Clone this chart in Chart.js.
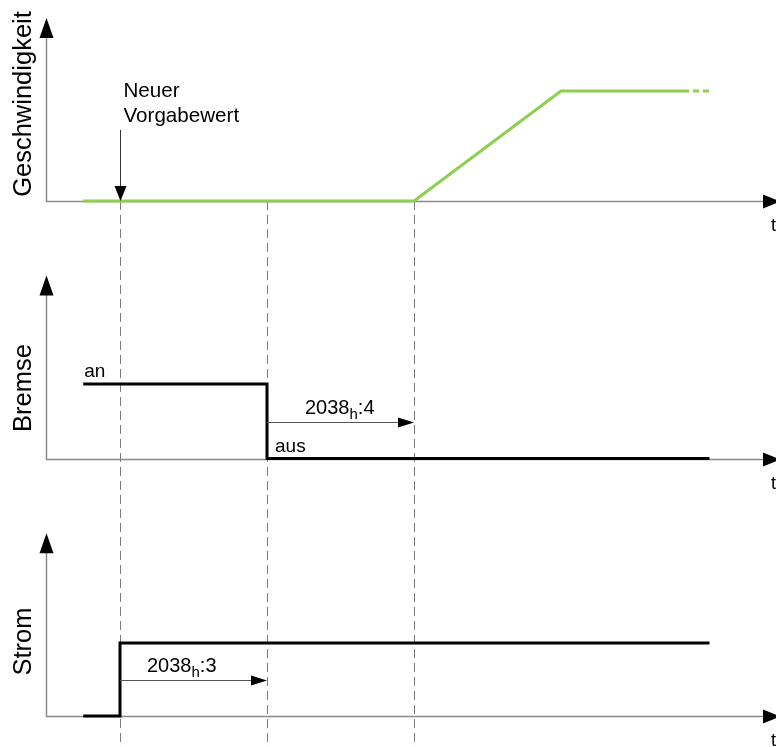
<!DOCTYPE html>
<html>
<head>
<meta charset="utf-8">
<script src="https://cdn.jsdelivr.net/npm/chart.js@4.4.0/dist/chart.umd.min.js"></script>
<style>
  html, body { margin: 0; padding: 0; background: #fff; }
  #wrap { width: 776px; height: 747px; }
</style>
</head>
<body>
<div id="wrap"><canvas id="chart" width="776" height="747"></canvas></div>
<script>
// Zeitachse: 1 = Neuer Vorgabewert, 2 = Bremse aus, 3 = Rampe startet
const eventTimes = [1, 2, 3];
const panelNames = ['Geschwindigkeit', 'Bremse', 'Strom'];

const speedTimes = [0.75, 3, 4, 4.83];
const speedLevels = [0, 0, 1, 1];
const speedTailTimes = [4.83, 5.03];
const speedTailLevels = [1, 1];

const brakeTimes = [0.75, 2, 5.01];
const brakeLevels = [1, 0, 0];

const currentTimes = [0.75, 1, 5.01];
const currentLevels = [0, 1, 1];

const delayFrom = [2, 1];
const delayTo = [3, 2];
const delayText = ['2038', '2038'];
const delaySub = ['h', 'h'];
const delaySuffix = [':4', ':3'];

// layout of the three panels on the shared y scale
const panelBase = [2, 1, 0];
const panelAmp = [0.427, 0.289, 0.284];
const titleLift = [97.5, 71.5, 75];
const axisTop = 0.71;
const axisStart = 0.5;
const axisEnd = 5.49;
const delayPanel = [1, 2];
const delayDx = [38, 27];

const FONT = '"Liberation Sans", Arial, sans-serif';

function toPoints(times, levels, panel) {
  return times.map((t, i) => ({ x: t, y: panelBase[panel] + levels[i] * panelAmp[panel] }));
}

function arrowHead(ctx, x, y, dir, len, half) {
  ctx.beginPath();
  if (dir === 'up') {
    ctx.moveTo(x, y); ctx.lineTo(x - half, y + len); ctx.lineTo(x + half, y + len);
  } else if (dir === 'down') {
    ctx.moveTo(x, y); ctx.lineTo(x - half, y - len); ctx.lineTo(x + half, y - len);
  } else {
    ctx.moveTo(x, y); ctx.lineTo(x - len, y - half); ctx.lineTo(x - len, y + half);
  }
  ctx.closePath();
  ctx.fill();
}

const decor = {
  id: 'decor',
  beforeDatasetsDraw(chart) {
    const ctx = chart.ctx;
    const xs = chart.scales.x, ys = chart.scales.y;
    ctx.save();

    // dashed markers
    ctx.strokeStyle = '#7a7a7a';
    ctx.lineWidth = 1;
    ctx.setLineDash([9, 5]);
    const top = ys.getPixelForValue(panelBase[0]);
    eventTimes.forEach(t => {
      const x = Math.round(xs.getPixelForValue(t)) + 0.5;
      ctx.beginPath();
      ctx.moveTo(x, top);
      ctx.lineTo(x, chart.height);
      ctx.stroke();
    });
    ctx.setLineDash([]);

    // axes
    const x0 = Math.round(xs.getPixelForValue(axisStart)) + 0.5;
    const xEnd = xs.getPixelForValue(axisEnd);
    panelBase.forEach((b, p) => {
      const y0 = Math.round(ys.getPixelForValue(b)) + 0.5;
      const yTop = ys.getPixelForValue(b + axisTop);
      ctx.strokeStyle = '#8a8a8a';
      ctx.lineWidth = 1.5;
      ctx.beginPath();
      ctx.moveTo(x0, yTop + 10);
      ctx.lineTo(x0, y0);
      ctx.lineTo(xEnd - 10, y0);
      ctx.stroke();
      ctx.fillStyle = '#000';
      arrowHead(ctx, x0, yTop, 'up', 20, 7);
      arrowHead(ctx, xEnd, y0, 'right', 17, 7);

      ctx.font = '18px ' + FONT;
      ctx.textAlign = 'left';
      ctx.textBaseline = 'alphabetic';
      ctx.fillText('t', 771, y0 + 29);

      ctx.save();
      ctx.translate(24, y0 - titleLift[p]);
      ctx.rotate(-Math.PI / 2);
      ctx.font = '25.5px ' + FONT;
      ctx.textAlign = 'center';
      ctx.textBaseline = 'middle';
      ctx.fillText(panelNames[p], 0, 0);
      ctx.restore();
    });
    ctx.restore();
  },
  afterDatasetsDraw(chart) {
    const ctx = chart.ctx;
    const xs = chart.scales.x, ys = chart.scales.y;
    ctx.save();
    ctx.fillStyle = '#000';

    // Neuer Vorgabewert
    const xv = Math.round(xs.getPixelForValue(eventTimes[0])) + 0.5;
    const yb = ys.getPixelForValue(panelBase[0]);
    ctx.strokeStyle = '#333';
    ctx.lineWidth = 1;
    ctx.beginPath();
    ctx.moveTo(xv, yb - 71);
    ctx.lineTo(xv, yb - 14);
    ctx.stroke();
    arrowHead(ctx, xv, yb, 'down', 15, 6);
    ctx.font = '20.6px ' + FONT;
    ctx.textAlign = 'left';
    ctx.textBaseline = 'alphabetic';
    ctx.fillText('Neuer', xv + 3, yb - 104);
    ctx.fillText('Vorgabewert', xv + 3, yb - 79);

    // an / aus
    ctx.font = '19px ' + FONT;
    const brakeHigh = ys.getPixelForValue(panelBase[1] + panelAmp[1]);
    const brakeLow = ys.getPixelForValue(panelBase[1]);
    ctx.fillText('an', xs.getPixelForValue(brakeTimes[0]) + 1, brakeHigh - 7);
    ctx.fillText('aus', xs.getPixelForValue(brakeTimes[1]) + 8, brakeLow - 7);

    // delay arrows
    delayFrom.forEach((f, i) => {
      const p = delayPanel[i];
      const y = Math.round(ys.getPixelForValue(panelBase[p] + 0.142)) + 0.5;
      const xa = xs.getPixelForValue(f);
      const xb = xs.getPixelForValue(delayTo[i]);
      ctx.strokeStyle = '#555';
      ctx.lineWidth = 1;
      ctx.beginPath();
      ctx.moveTo(xa, y);
      ctx.lineTo(xb - 12, y);
      ctx.stroke();
      arrowHead(ctx, xb, y, 'right', 16, 5);

      let tx = xa + delayDx[i];
      const ty = y - 9;
      ctx.font = '20px ' + FONT;
      ctx.fillText(delayText[i], tx, ty);
      tx += ctx.measureText(delayText[i]).width;
      ctx.font = '15px ' + FONT;
      ctx.fillText(delaySub[i], tx, ty + 5);
      tx += ctx.measureText(delaySub[i]).width;
      ctx.font = '20px ' + FONT;
      ctx.fillText(delaySuffix[i], tx, ty);
    });
    ctx.restore();
  }
};

const green = '#8dd04e';
const lineBase = { showLine: true, pointRadius: 0, fill: false, borderJoinStyle: 'miter', borderCapStyle: 'butt' };

new Chart(document.getElementById('chart'), {
  type: 'scatter',
  data: {
    datasets: [
      { ...lineBase, label: 'Geschwindigkeit', data: toPoints(speedTimes, speedLevels, 0), borderColor: green, borderWidth: 3 },
      { ...lineBase, label: 'Geschwindigkeit (weiter)', data: toPoints(speedTailTimes, speedTailLevels, 0), borderColor: green, borderWidth: 3, borderDash: [6, 4] },
      { ...lineBase, label: 'Bremse', data: toPoints(brakeTimes, brakeLevels, 1), borderColor: '#000', borderWidth: 3, stepped: true },
      { ...lineBase, label: 'Strom', data: toPoints(currentTimes, currentLevels, 2), borderColor: '#000', borderWidth: 3, stepped: true }
    ]
  },
  options: {
    responsive: false,
    animation: false,
    layout: { padding: 0 },
    plugins: { legend: { display: false }, tooltip: { enabled: false } },
    scales: {
      x: { type: 'linear', display: false, min: 0.1837, max: 5.4626 },
      y: { type: 'linear', display: false, min: -0.12, max: 2.78 }
    }
  },
  plugins: [decor]
});
</script>
</body>
</html>
